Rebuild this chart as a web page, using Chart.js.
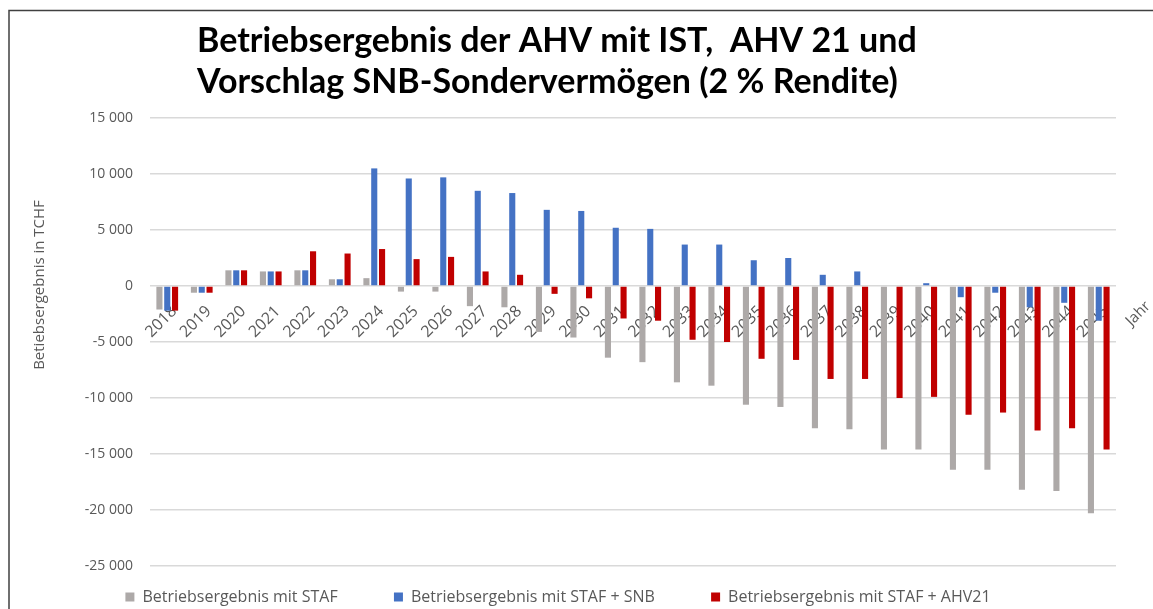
<!DOCTYPE html>
<html>
<head>
<meta charset="utf-8">
<script src="https://cdn.jsdelivr.net/npm/chart.js@4"></script>
<style>
  html, body { margin: 0; padding: 0; background: #fff; }
  #wrap { width: 1153px; height: 609px; }
</style>
</head>
<body>
<div id="wrap"><canvas id="chart-ahv"></canvas></div>
<script>
// Daten
const jahre = ["2018", "2019", "2020", "2021", "2022", "2023", "2024", "2025", "2026", "2027",
    "2028", "2029", "2030", "2031", "2032", "2033", "2034", "2035", "2036", "2037",
    "2038", "2039", "2040", "2041", "2042", "2043", "2044", "2045"];

const mitStaf = [-2100, -600, 1400, 1300, 1400, 600, 700, -500, -500, -1800,
    -1900, -4100, -4600, -6400, -6800, -8600, -8900, -10600, -10800, -12700,
    -12800, -14600, -14600, -16400, -16400, -18200, -18300, -20300];

const mitStafSnb = [-2200, -600, 1400, 1300, 1400, 600, 10500, 9600, 9700, 8500,
    8300, 6800, 6700, 5200, 5100, 3700, 3700, 2300, 2500, 1000,
    1300, 0, 250, -1000, -600, -1900, -1500, -3100];

const mitStafAhv21 = [-2200, -600, 1400, 1300, 3100, 2900, 3300, 2400, 2600, 1300,
    1000, -700, -1100, -2900, -3100, -4800, -5000, -6500, -6600, -8300,
    -8300, -10000, -9900, -11500, -11300, -12900, -12700, -14600];

const titelZeilen = ["Betriebsergebnis der AHV mit IST,  AHV 21 und", "Vorschlag SNB-Sondervermögen (2 % Rendite)"];
const yTitel = "Betiebsergebnis in TCHF";
const xTitel = "Jahr";

const grau = '#595959';

function tausender(v) {
    return String(v).replace(/\B(?=(\d{3})+(?!\d))/g, ' ');
}

// Rahmen, Titel und Achsentitel
const extras = {
    id: 'extras',
    afterDraw(chart) {
        const c = chart.ctx;
        const area = chart.chartArea;
        c.save();

        c.strokeStyle = '#404040';
        c.lineWidth = 1.5;
        c.beginPath();
        c.moveTo(9, 609);
        c.lineTo(9, 10.5);
        c.lineTo(1153, 10.5);
        c.stroke();

        c.fillStyle = '#000';
        c.font = "bold 34px Lato, 'Open Sans', sans-serif";
        c.textAlign = 'left';
        c.textBaseline = 'alphabetic';
        c.fillText(titelZeilen[0], 197, 52);
        c.fillText(titelZeilen[1], 197, 93);

        c.fillStyle = grau;
        c.font = "15px 'Open Sans', sans-serif";
        c.save();
        c.translate(40, 285);
        c.rotate(-Math.PI / 2);
        c.textAlign = 'center';
        c.textBaseline = 'middle';
        c.fillText(yTitel, 0, 0);
        c.restore();

        const y0 = chart.scales.y.getPixelForValue(0);
        c.save();
        c.translate(area.right + 32, y0 + 18);
        c.rotate(-Math.PI / 4);
        c.textAlign = 'right';
        c.textBaseline = 'middle';
        c.fillText(xTitel, 0, 0);
        c.restore();

        c.restore();
    }
};

new Chart(document.getElementById('chart-ahv'), {
    type: 'bar',
    data: {
        labels: jahre,
        datasets: [{
            label: 'Betriebsergebnis mit STAF',
            data: mitStaf,
            backgroundColor: '#ADA9A8',
            categoryPercentage: 0.68,
            barPercentage: 0.78
        }, {
            label: 'Betriebsergebnis mit STAF + SNB',
            data: mitStafSnb,
            backgroundColor: '#4472C4',
            categoryPercentage: 0.68,
            barPercentage: 0.78
        }, {
            label: 'Betriebsergebnis mit STAF + AHV21',
            data: mitStafAhv21,
            backgroundColor: '#C00000',
            categoryPercentage: 0.68,
            barPercentage: 0.78
        }]
    },
    options: {
        responsive: true,
        maintainAspectRatio: false,
        animation: false,
        layout: {
            padding: { top: 118, right: 37, bottom: -6, left: 0 }
        },
        plugins: {
            legend: {
                position: 'bottom',
                labels: {
                    boxWidth: 9,
                    boxHeight: 9,
                    padding: 23,
                    color: grau,
                    font: { size: 16, family: "'Liberation Sans Narrow', 'Open Sans', sans-serif" },
                    generateLabels(chart) {
                        const items = Chart.defaults.plugins.legend.labels.generateLabels(chart);
                        items.forEach((it, i) => {
                            if (i < items.length - 1) it.text = it.text + '        ';
                        });
                        return items;
                    }
                }
            },
            tooltip: { enabled: false },
            title: { display: false }
        },
        scales: {
            x: {
                position: { y: 0 },
                grid: { display: false },
                border: { display: false },
                ticks: {
                    color: grau,
                    minRotation: 45,
                    maxRotation: 45,
                    padding: 8,
                    labelOffset: 7,
                    font: { size: 16, family: "'Open Sans', sans-serif" }
                }
            },
            y: {
                min: -25000,
                max: 15000,
                afterFit(scale) { scale.width = 150; },
                grid: { color: '#D9D9D9', lineWidth: 1.5, drawTicks: false },
                border: { display: false },
                ticks: {
                    stepSize: 5000,
                    color: grau,
                    padding: 17,
                    font: { size: 14, family: "'Open Sans', sans-serif" },
                    callback: function(value) {
                        return tausender(value);
                    }
                }
            }
        }
    },
    plugins: [extras]
});
</script>
</body>
</html>
